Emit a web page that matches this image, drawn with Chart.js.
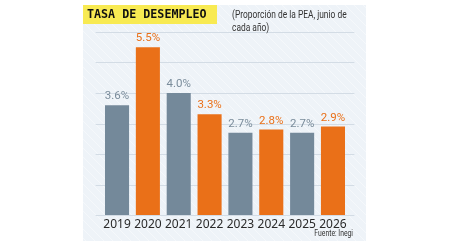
<!DOCTYPE html>
<html>
<head>
<meta charset="utf-8">
<script src="https://cdn.jsdelivr.net/npm/chart.js@4/dist/chart.umd.min.js"></script>
<style>
  html, body { margin: 0; padding: 0; background: #fff; }
  #wrap { width: 449px; height: 252px; position: relative; }
</style>
</head>
<body>
<div id="wrap"><canvas id="tasaChart" width="449" height="252"></canvas></div>
<script>
var years = ["2019", "2020", "2021", "2022", "2023", "2024", "2025", "2026"];
var tasa = [3.6, 5.5, 4.0, 3.3, 2.7, 2.8, 2.7, 2.9];
var gridValues = [0, 1, 2, 3, 4, 5, 6];

var GRAY = "#74899a";
var ORANGE = "#ea7018";
var barColors = [];
var labelColors = [];
for (var i in tasa) {
  barColors.push(i % 2 == 0 ? GRAY : ORANGE);
  labelColors.push(i % 2 == 0 ? "#7a8c9b" : "#ea7018");
}

// condensed text: squeeze Roboto horizontally
function narrowText(ctx, txt, x, y, sx) {
  ctx.save();
  ctx.translate(x, y);
  ctx.scale(sx, 1);
  ctx.fillText(txt, 0, 0);
  ctx.restore();
}

// panel, title, gridlines behind the bars
var backdrop = {
  id: "backdrop",
  beforeDraw: function(chart) {
    var ctx = chart.ctx;
    var y = chart.scales.y;
    var area = chart.chartArea;
    ctx.save();
    ctx.fillStyle = "#eef3f8";
    ctx.fillRect(83, 5, 283, 236);
    // faint diagonal stripes
    ctx.beginPath();
    ctx.rect(83, 5, 283, 236);
    ctx.clip();
    ctx.strokeStyle = "rgba(255,255,255,0.4)";
    ctx.lineWidth = 1;
    for (var s = -260; s < 300; s += 9) {
      ctx.beginPath();
      ctx.moveTo(83 + s, 5);
      ctx.lineTo(83 + s + 236, 241);
      ctx.stroke();
    }
    ctx.restore();

    ctx.save();
    ctx.strokeStyle = "#d3dce5";
    ctx.lineWidth = 1;
    for (var g in gridValues) {
      var py = Math.round(y.getPixelForValue(gridValues[g])) + 0.5;
      ctx.beginPath();
      ctx.moveTo(area.left - 6, py);
      ctx.lineTo(area.right + 6, py);
      ctx.stroke();
    }

    ctx.fillStyle = "#f8ea52";
    ctx.fillRect(83, 5, 134, 19);
    ctx.fillStyle = "#111";
    ctx.font = "bold 11.7px 'DejaVu Sans Mono'";
    ctx.textBaseline = "middle";
    ctx.textAlign = "left";
    ctx.fillText("TASA DE DESEMPLEO", 87, 15);

    ctx.fillStyle = "#333";
    ctx.font = "10.5px Roboto";
    narrowText(ctx, "(Proporción de la PEA, junio de", 232, 15, 0.8);
    narrowText(ctx, "cada año)", 232, 28, 0.8);

    ctx.font = "8.5px Roboto";
    ctx.textAlign = "right";
    narrowText(ctx, "Fuente: Inegi", 353, 234, 0.8);
    ctx.restore();
  }
};

// value labels on top of the bars
var valueLabels = {
  id: "valueLabels",
  afterDatasetsDraw: function(chart) {
    var ctx = chart.ctx;
    var bars = chart.getDatasetMeta(0).data;
    ctx.save();
    ctx.font = "11.5px Roboto";
    ctx.textAlign = "center";
    ctx.textBaseline = "alphabetic";
    for (var i in bars) {
      ctx.fillStyle = labelColors[i];
      ctx.fillText(tasa[i].toFixed(1) + "%", bars[i].x, bars[i].y - 6);
    }
    ctx.restore();
  }
};

var x = document.getElementById("tasaChart");
var barChart = new Chart(x, {
  type: "bar",
  data: {
    labels: years,
    datasets: [{
      data: tasa,
      backgroundColor: barColors,
      borderWidth: 0,
      barPercentage: 0.78,
      categoryPercentage: 1.0
    }]
  },
  options: {
    responsive: false,
    animation: false,
    layout: { padding: { left: 101.6, right: 100.6, top: 32, bottom: 12 } },
    plugins: { legend: { display: false }, tooltip: { enabled: false } },
    scales: {
      x: {
        grid: { display: false, drawTicks: false },
        border: { display: false },
        ticks: { color: "#2a2a2a", font: { size: 12, family: "'Noto Sans'" }, padding: 2, maxRotation: 0, autoSkip: false },
        afterFit: function(scale) { scale.height = 25; }
      },
      y: {
        min: 0,
        max: 6,
        grid: { display: false },
        border: { display: false },
        ticks: { display: false },
        afterFit: function(scale) { scale.width = 0; }
      }
    }
  },
  plugins: [backdrop, valueLabels]
});
</script>
</body>
</html>
